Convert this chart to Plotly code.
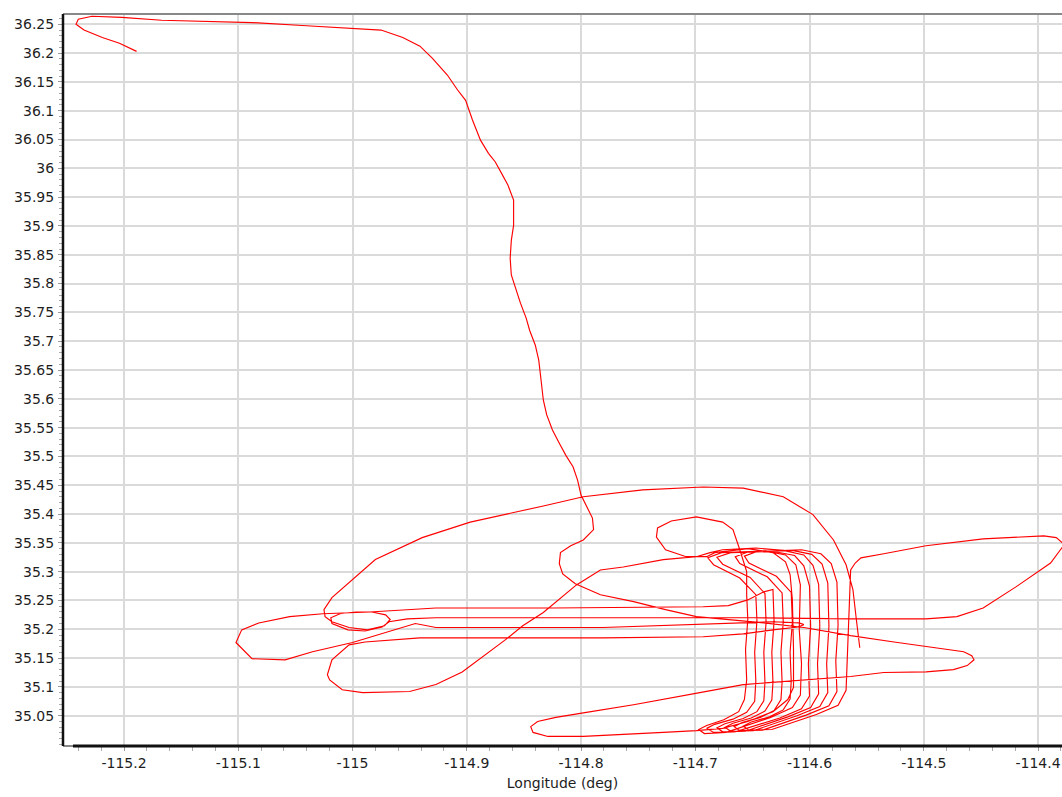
import plotly.graph_objects as go

# ---- flight track segments: [longitude, latitude] ----
leg_north = [
    [-115.189, 36.203], [-115.204, 36.217], [-115.219, 36.227], [-115.235, 36.240],
    [-115.242, 36.250], [-115.240, 36.259], [-115.228, 36.264], [-115.202, 36.262],
    [-115.167, 36.257], [-115.088, 36.253], [-115.044, 36.248], [-114.975, 36.240],
    [-114.956, 36.227], [-114.941, 36.212], [-114.930, 36.191], [-114.917, 36.162],
    [-114.908, 36.136], [-114.901, 36.118], [-114.895, 36.084], [-114.888, 36.049],
    [-114.881, 36.026], [-114.875, 36.011], [-114.870, 35.993], [-114.864, 35.971],
    [-114.859, 35.945], [-114.859, 35.901], [-114.861, 35.875], [-114.862, 35.844],
    [-114.861, 35.815], [-114.857, 35.789], [-114.853, 35.766], [-114.848, 35.740],
    [-114.845, 35.719], [-114.840, 35.693], [-114.837, 35.667], [-114.835, 35.633],
    [-114.833, 35.598], [-114.830, 35.572], [-114.825, 35.546], [-114.819, 35.523],
    [-114.813, 35.501], [-114.807, 35.482], [-114.803, 35.459], [-114.800, 35.433],
    [-114.796, 35.416], [-114.790, 35.393], [-114.789, 35.373], [-114.798, 35.355],
    [-114.809, 35.345], [-114.818, 35.333], [-114.819, 35.314], [-114.816, 35.296],
    [-114.805, 35.279], [-114.783, 35.260], [-114.754, 35.248], [-114.726, 35.234],
    [-114.699, 35.222], [-114.669, 35.217], [-114.640, 35.211], [-114.605, 35.203],
    [-114.564, 35.189], [-114.526, 35.178], [-114.498, 35.170], [-114.465, 35.161],
    [-114.458, 35.154], [-114.456, 35.147], [-114.462, 35.137], [-114.474, 35.130],
    [-114.498, 35.126], [-114.535, 35.125], [-114.564, 35.118], [-114.605, 35.112],
    [-114.658, 35.104], [-114.696, 35.090], [-114.754, 35.069], [-114.798, 35.055],
    [-114.822, 35.047], [-114.838, 35.040], [-114.844, 35.031], [-114.842, 35.021],
    [-114.829, 35.014], [-114.798, 35.014], [-114.763, 35.017], [-114.728, 35.021],
    [-114.699, 35.024],
]

leg_bridge = [
    [-114.676, 35.028], [-114.654, 35.040], [-114.632, 35.057], [-114.619, 35.078],
    [-114.614, 35.099], [-114.614, 35.165], [-114.615, 35.251], [-114.617, 35.295],
    [-114.621, 35.317], [-114.632, 35.333], [-114.654, 35.340], [-114.683, 35.333],
    [-114.690, 35.326], [-114.708, 35.326], [-114.726, 35.338], [-114.734, 35.360],
    [-114.733, 35.376], [-114.721, 35.388], [-114.699, 35.395], [-114.676, 35.386],
    [-114.667, 35.373], [-114.661, 35.338], [-114.655, 35.300],
]

survey_pass_1 = [
    [-114.655, 35.260], [-114.654, 35.217], [-114.656, 35.165], [-114.655, 35.112],
    [-114.657, 35.078], [-114.662, 35.057], [-114.675, 35.043], [-114.690, 35.033],
    [-114.697, 35.026], [-114.692, 35.019], [-114.673, 35.021], [-114.634, 35.047],
    [-114.615, 35.064], [-114.608, 35.086], [-114.607, 35.140], [-114.609, 35.200],
    [-114.608, 35.277], [-114.612, 35.312], [-114.621, 35.329], [-114.639, 35.336],
    [-114.677, 35.333], [-114.689, 35.324], [-114.684, 35.312], [-114.661, 35.289],
]

survey_pass_2 = [
    [-114.647, 35.260], [-114.646, 35.215], [-114.648, 35.160], [-114.647, 35.110],
    [-114.648, 35.075], [-114.655, 35.056], [-114.667, 35.044], [-114.683, 35.035],
    [-114.690, 35.028], [-114.684, 35.021], [-114.665, 35.022], [-114.626, 35.046],
    [-114.607, 35.062], [-114.600, 35.084], [-114.601, 35.140], [-114.599, 35.205],
    [-114.600, 35.275], [-114.605, 35.310], [-114.613, 35.328], [-114.631, 35.335],
    [-114.669, 35.333], [-114.681, 35.325], [-114.676, 35.313], [-114.652, 35.290],
]

survey_pass_3 = [
    [-114.639, 35.262], [-114.638, 35.212], [-114.640, 35.160], [-114.639, 35.108],
    [-114.640, 35.076], [-114.646, 35.057], [-114.658, 35.045], [-114.674, 35.036],
    [-114.681, 35.029], [-114.676, 35.022], [-114.656, 35.023], [-114.619, 35.048],
    [-114.599, 35.064], [-114.592, 35.088], [-114.593, 35.140], [-114.591, 35.205],
    [-114.592, 35.278], [-114.597, 35.311], [-114.605, 35.329], [-114.623, 35.337],
]

leg_west_loops = [
    [-114.647, 35.341], [-114.676, 35.338], [-114.687, 35.333], [-114.699, 35.326],
    [-114.728, 35.321], [-114.763, 35.308], [-114.783, 35.303], [-114.804, 35.277],
    [-114.833, 35.229], [-114.851, 35.206], [-114.866, 35.182], [-114.904, 35.126],
    [-114.927, 35.104], [-114.950, 35.092], [-114.991, 35.090], [-115.009, 35.095],
    [-115.020, 35.112], [-115.022, 35.121], [-115.018, 35.147], [-115.003, 35.173],
    [-114.989, 35.178], [-114.941, 35.185], [-114.869, 35.185], [-114.781, 35.185],
    [-114.693, 35.187], [-114.658, 35.192], [-114.632, 35.199], [-114.610, 35.204],
    [-114.605, 35.208], [-114.609, 35.211], [-114.632, 35.213], [-114.676, 35.210],
    [-114.693, 35.208], [-114.781, 35.203], [-114.886, 35.203], [-114.927, 35.203],
    [-114.945, 35.210], [-114.971, 35.194], [-115.000, 35.177], [-115.035, 35.161],
    [-115.059, 35.147], [-115.088, 35.149], [-115.102, 35.177], [-115.097, 35.199],
    [-115.082, 35.211], [-115.055, 35.222], [-115.026, 35.227], [-114.985, 35.230],
    [-114.927, 35.237], [-114.825, 35.237], [-114.737, 35.239], [-114.693, 35.239],
    [-114.671, 35.241], [-114.654, 35.251], [-114.640, 35.265],
]

survey_pass_4 = [
    [-114.632, 35.269], [-114.631, 35.214], [-114.633, 35.160], [-114.632, 35.108],
    [-114.633, 35.077], [-114.639, 35.058], [-114.651, 35.046], [-114.667, 35.037],
    [-114.674, 35.030], [-114.669, 35.023], [-114.649, 35.024], [-114.611, 35.050],
    [-114.591, 35.066], [-114.584, 35.090], [-114.585, 35.140], [-114.583, 35.205],
    [-114.584, 35.280], [-114.589, 35.313], [-114.598, 35.330], [-114.615, 35.337],
    [-114.654, 35.334], [-114.665, 35.326], [-114.661, 35.314], [-114.637, 35.291],
]

survey_pass_5 = [
    [-114.624, 35.263], [-114.623, 35.213], [-114.625, 35.160], [-114.624, 35.108],
    [-114.625, 35.078], [-114.631, 35.059], [-114.643, 35.047], [-114.659, 35.038],
    [-114.666, 35.031], [-114.661, 35.024], [-114.641, 35.025], [-114.603, 35.051],
    [-114.583, 35.067], [-114.576, 35.092], [-114.577, 35.145], [-114.575, 35.207],
    [-114.576, 35.282], [-114.581, 35.314], [-114.590, 35.331], [-114.607, 35.338],
    [-114.646, 35.335], [-114.657, 35.327], [-114.653, 35.315], [-114.629, 35.292],
]

survey_pass_6 = [
    [-114.616, 35.264], [-114.615, 35.213], [-114.617, 35.160], [-114.616, 35.110],
    [-114.617, 35.079], [-114.623, 35.060], [-114.635, 35.048], [-114.651, 35.039],
    [-114.658, 35.032], [-114.653, 35.025], [-114.633, 35.026], [-114.594, 35.052],
    [-114.575, 35.068], [-114.568, 35.094], [-114.567, 35.150], [-114.566, 35.210],
    [-114.565, 35.270], [-114.564, 35.303],
]

leg_east_loop = [
    [-114.560, 35.315], [-114.555, 35.324], [-114.535, 35.331], [-114.498, 35.345],
    [-114.448, 35.357], [-114.395, 35.362], [-114.384, 35.359], [-114.377, 35.347],
    [-114.389, 35.315], [-114.419, 35.274], [-114.448, 35.237], [-114.471, 35.222],
    [-114.498, 35.218], [-114.564, 35.218], [-114.649, 35.220], [-114.781, 35.220],
    [-114.869, 35.220], [-114.927, 35.220],
]

leg_orbit = [
    [-114.952, 35.218], [-114.968, 35.213], [-114.974, 35.204], [-114.989, 35.197],
    [-115.004, 35.199], [-115.018, 35.210], [-115.019, 35.220], [-115.011, 35.227],
    [-114.997, 35.230], [-114.983, 35.230], [-114.971, 35.225], [-114.967, 35.217],
    [-114.972, 35.206], [-114.987, 35.199], [-115.003, 35.203], [-115.018, 35.213],
    [-115.024, 35.222], [-115.025, 35.234],
]

leg_final = [
    [-115.018, 35.255], [-114.997, 35.291], [-114.980, 35.321], [-114.939, 35.359],
    [-114.897, 35.386], [-114.833, 35.414], [-114.798, 35.430], [-114.746, 35.442],
    [-114.693, 35.447], [-114.658, 35.445], [-114.623, 35.430], [-114.597, 35.399],
    [-114.579, 35.355], [-114.568, 35.312], [-114.562, 35.269], [-114.559, 35.217],
    [-114.556, 35.168],
]

x_tick_vals = [-115.2, -115.1, -115.0, -114.9, -114.8, -114.7, -114.6, -114.5, -114.4]
x_tick_text = ["-115.2", "-115.1", "-115", "-114.9", "-114.8", "-114.7", "-114.6", "-114.5", "-114.4"]
y_tick_vals = [35.05, 35.10, 35.15, 35.20, 35.25, 35.30, 35.35, 35.40, 35.45, 35.50, 35.55,
               35.60, 35.65, 35.70, 35.75, 35.80, 35.85, 35.90, 35.95, 36.00, 36.05, 36.10,
               36.15, 36.20, 36.25]
y_tick_text = ["35.05", "35.1", "35.15", "35.2", "35.25", "35.3", "35.35", "35.4", "35.45",
               "35.5", "35.55", "35.6", "35.65", "35.7", "35.75", "35.8", "35.85", "35.9",
               "35.95", "36", "36.05", "36.1", "36.15", "36.2", "36.25"]

track = (leg_north + leg_bridge + survey_pass_1 + survey_pass_2 + survey_pass_3 +
         leg_west_loops + survey_pass_4 + survey_pass_5 + survey_pass_6 +
         leg_east_loop + leg_orbit + leg_final)
lon = [p[0] for p in track]
lat = [p[1] for p in track]

fig = go.Figure()
fig.add_trace(go.Scatter(x=lon, y=lat, mode="lines",
                         line=dict(color="rgb(255,0,0)", width=1.15),
                         hoverinfo="x+y"))

font_family = "DejaVu Sans"
label_font = dict(family=font_family, size=14, color="#1e1e1e")
fig.update_layout(
    width=1062, height=797,
    margin=dict(l=63, r=0, t=14, b=51),
    paper_bgcolor="white", plot_bgcolor="white",
    showlegend=False,
    font=label_font,
    xaxis=dict(
        range=[-115.2534, -114.379],
        tickmode="array", tickvals=x_tick_vals, ticktext=x_tick_text,
        showgrid=True, gridcolor="#dadada", gridwidth=1.7,
        zeroline=False, showline=False,
        ticks="outside", ticklen=4, tickcolor="#999999", tickwidth=1,
        minor=dict(tickmode="linear", tick0=-115.2, dtick=0.02, ticks="outside",
                   ticklen=4, tickcolor="#aaaaaa", tickwidth=1, showgrid=False),
        title=dict(text="Longitude (deg)", standoff=8, font=label_font),
        tickfont=label_font,
    ),
    yaxis=dict(
        range=[34.9974, 36.2679],
        tickmode="array", tickvals=y_tick_vals, ticktext=y_tick_text,
        showgrid=True, gridcolor="#dadada", gridwidth=1.7,
        zeroline=False, showline=False,
        ticks="outside", ticklen=4, tickcolor="#999999", tickwidth=1,
        minor=dict(tickmode="linear", tick0=35.0, dtick=0.01, ticks="outside",
                   ticklen=3, tickcolor="#aaaaaa", tickwidth=1, showgrid=False),
        tickfont=label_font,
        ticklabelstandoff=1,
    ),
    shapes=[
        dict(type="line", xref="paper", yref="paper", x0=0, x1=1, y0=1, y1=1,
             line=dict(color="#888888", width=2), layer="above"),
        dict(type="line", xref="paper", yref="paper", x0=0, x1=0.01, y0=0, y1=0,
             line=dict(color="#888888", width=2), layer="above"),
        dict(type="line", xref="paper", yref="paper", x0=0.01, x1=1, y0=0, y1=0,
             line=dict(color="#111111", width=3), layer="above"),
        dict(type="line", xref="paper", yref="paper", x0=0, x1=0, y0=0, y1=1,
             line=dict(color="#111111", width=2.5), layer="above"),
    ],
)

fig.write_html("out.html")
